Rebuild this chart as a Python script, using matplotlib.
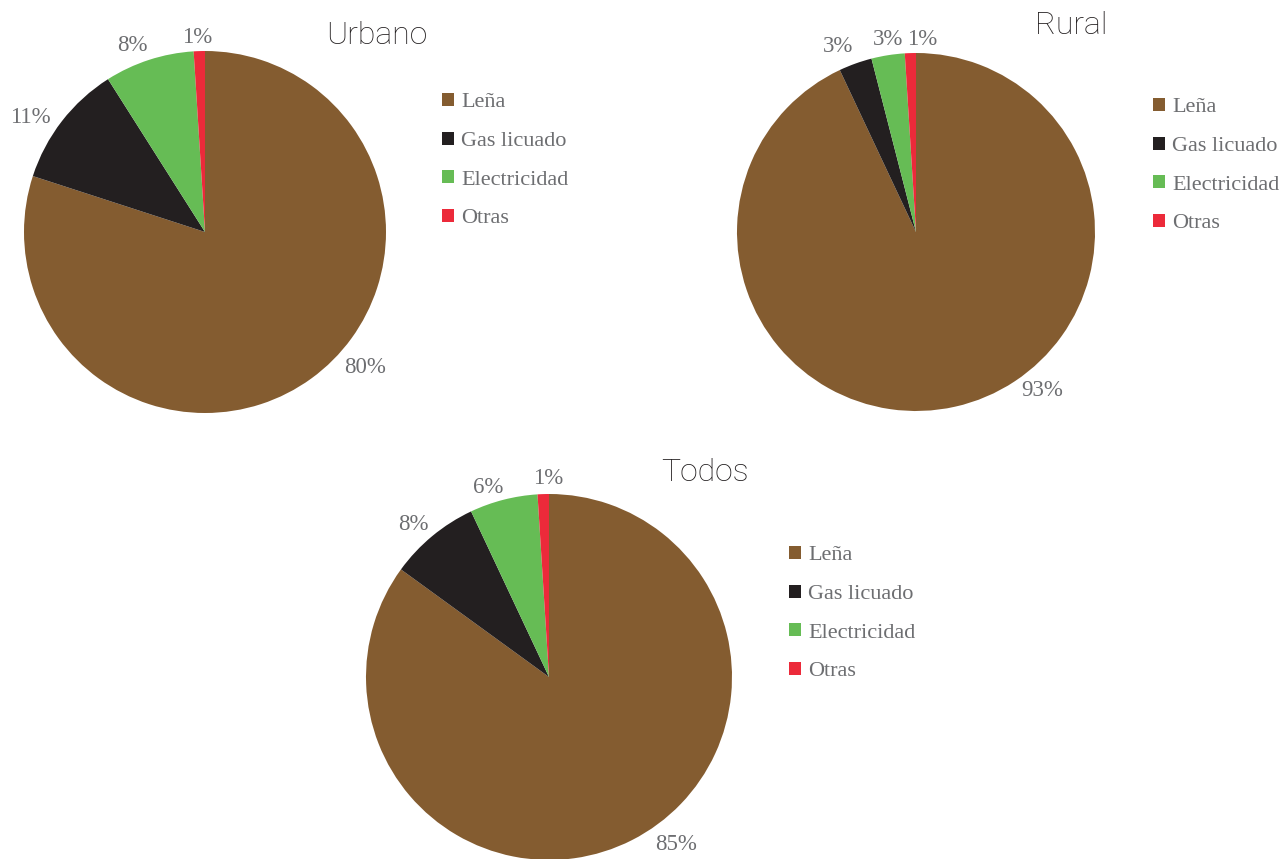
import matplotlib
matplotlib.use("Agg")
import matplotlib.pyplot as plt

W, H = 1286, 859

categories = ["Leña", "Gas licuado", "Electricidad", "Otras"]
colors = ["#845C30", "#231F20", "#66BC55", "#EC2A3A"]

urbano = [80, 11, 8, 1]
rural = [93, 3, 3, 1]
todos = [85, 8, 6, 1]

TEXT_GRAY = "#6D6E71"
SERIF = "Liberation Serif"


def px_axes(fig, left, top, size):
    # square axes given in pixel coords (origin top-left)
    return fig.add_axes([left / W, (H - top - size) / H, size / W, size / H])


def draw_pie(fig, values, title, box, label_pos, title_xy, legend_xy):
    left, top, size = box
    ax = px_axes(fig, left, top, size)
    wedges, _ = ax.pie(
        values,
        colors=colors,
        startangle=90,
        counterclock=False,
        radius=1.0,
        wedgeprops=dict(linewidth=0),
    )
    ax.set_xlim(-1, 1)
    ax.set_ylim(-1, 1)
    ax.set_aspect("equal")
    ax.axis("off")

    for v, (lx, ly) in zip(values, label_pos):
        ax.text(lx, ly, f"{v}%", ha="center", va="center",
                fontsize=16.5, family=SERIF, color=TEXT_GRAY, clip_on=False)

    fig.text(title_xy[0] / W, 1 - title_xy[1] / H, title,
             ha="center", va="center", fontsize=23, family="Roboto",
             fontweight="light", color="#231F20")

    fig.legend(
        wedges, categories,
        loc="upper left",
        bbox_to_anchor=(legend_xy[0] / W, 1 - legend_xy[1] / H),
        bbox_transform=fig.transFigure,
        frameon=False,
        prop=dict(family=SERIF, size=16),
        labelcolor=TEXT_GRAY,
        handlelength=0.54,
        handleheight=0.54,
        handletextpad=0.32,
        labelspacing=0.86,
        borderpad=0,
        borderaxespad=0,
    )


fig = plt.figure(figsize=(W / 100, H / 100), dpi=100)
fig.patch.set_facecolor("white")

# label positions in pie-radius units (x right, y up)
urbano_labels = [(0.884, -0.746), (-0.967, 0.630), (-0.403, 1.028), (-0.044, 1.077)]
rural_labels = [(0.704, -0.888), (-0.436, 1.034), (-0.156, 1.078), (0.034, 1.078)]
todos_labels = [(0.694, -0.918), (-0.743, 0.831), (-0.333, 1.033), (-0.005, 1.087)]

draw_pie(fig, urbano, "Urbano", (24, 51, 362), urbano_labels, (377, 35), (442, 93))
draw_pie(fig, rural, "Rural", (737, 53, 358), rural_labels, (1071, 26), (1153, 98))
draw_pie(fig, todos, "Todos", (366, 494, 366), todos_labels, (705, 473), (789, 546))

fig.savefig("out.png", dpi=100, facecolor="white")
